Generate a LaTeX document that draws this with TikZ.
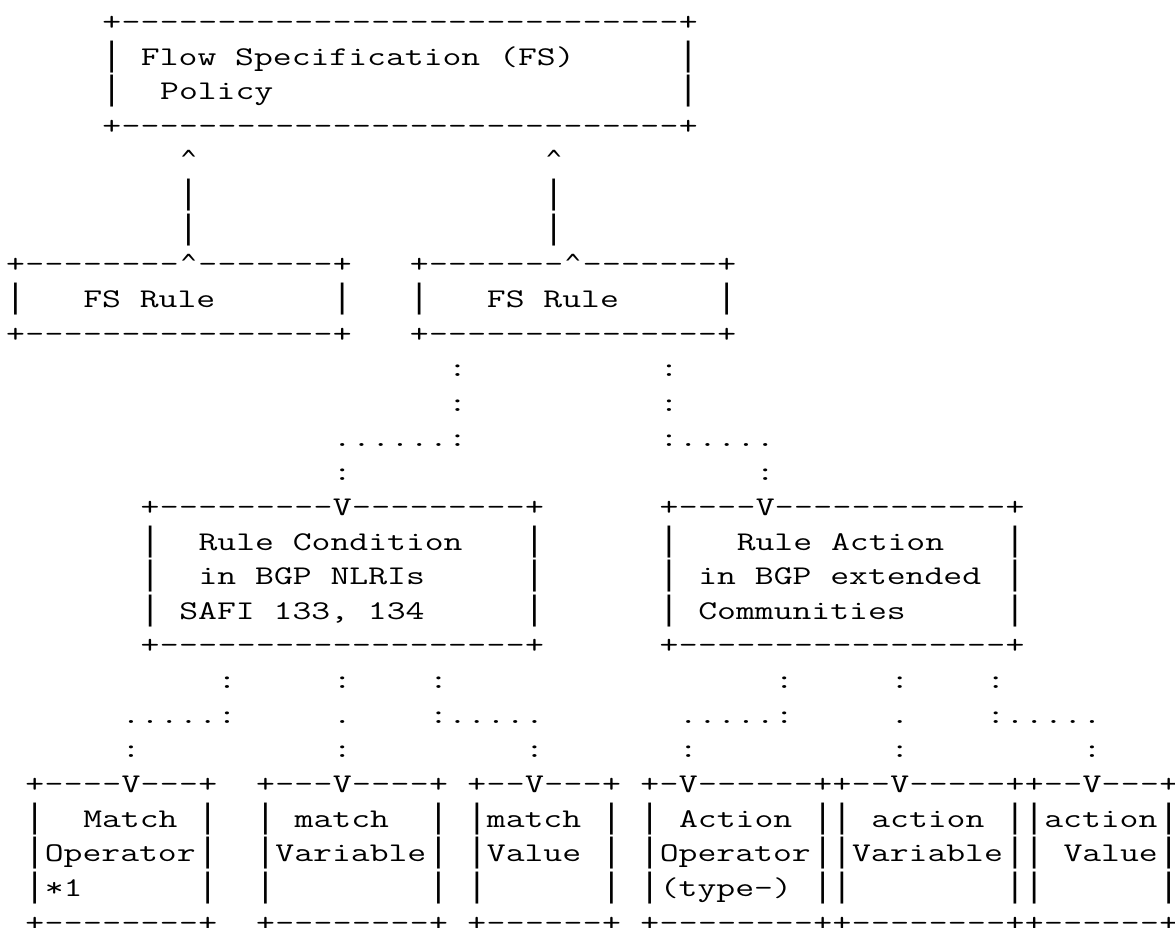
\documentclass[tikz,border=0pt]{standalone}
\usepackage{fontspec}
\newfontfamily\linefont{DejaVu Sans Mono}

% every character sits on a grid: one column per letter, one row per line
\newcommand{\wide}[1]{\scalebox{1.356}[1]{#1}}
\newcommand{\putch}[3]{\node[ch] at (#1,#2) {\wide{#3}};}
\newcommand{\putbar}[2]{\node[pipe] at (#1,#2) {|};}

% box of + - | characters: left col, top row, right col, bottom row
\newcommand{\asciibox}[4]{%
  \pgfmathtruncatemacro\cfirst{#1+1}%
  \pgfmathtruncatemacro\clast{#3-1}%
  \pgfmathtruncatemacro\rfirst{#2+1}%
  \pgfmathtruncatemacro\rlast{#4-1}%
  \foreach \y in {#2,#4} {
    \putch{#1}{\y}{+}
    \putch{#3}{\y}{+}
    \foreach \x in {\cfirst,...,\clast} {\putch{\x}{\y}{-}}
  }
  \foreach \y in {\rfirst,...,\rlast} {
    \putbar{#1}{\y}
    \putbar{#3}{\y}
  }
}

% runs of one character: char, col/row, from, to
\newcommand{\vrun}[4]{\foreach \y in {#3,...,#4} {\putch{#2}{\y}{#1}}}
\newcommand{\hrun}[4]{\foreach \x in {#3,...,#4} {\putch{\x}{#2}{#1}}}
\newcommand{\vbars}[3]{\foreach \y in {#2,...,#3} {\putbar{#1}{\y}}}

\begin{document}
\begin{tikzpicture}[
    x=9.61pt, y=-17.32pt,
    ch/.style={inner sep=0pt, anchor=base,
      font=\ttfamily\fontsize{13.5pt}{16pt}\selectfont},
    txt/.style={ch, anchor=base west},
    pipe/.style={inner sep=0pt, anchor=base,
      font=\linefont\fontsize{16pt}{18pt}\selectfont},
    caret/.style={inner sep=0pt, anchor=base,
      font=\linefont\fontsize{12.5pt}{14pt}\selectfont},
    joint/.style={ch, fill=white},
  ]
  \path[fill=white, use as bounding box] (-0.812,0.122) rectangle (60.322,26.883);

  % policy on top
  \asciibox{5}{1}{35}{4}
  \node[txt] (flowspec) at (6.5,2) {\wide{Flow Specification (FS)}};
  \node[txt] (policy) at (7.5,3) {\wide{Policy}};
  \node[caret] (tip1) at (9,5) {\textasciicircum};
  \node[caret] (tip2) at (28,5) {\textasciicircum};
  \vbars{9}{6}{7}
  \vbars{28}{6}{7}

  % the two rules
  \asciibox{0}{8}{17}{10}
  \asciibox{21}{8}{37}{10}
  \node[caret, fill=white] (up1) at (9,8) {\textasciicircum};
  \node[caret, fill=white] (up2) at (29,8) {\textasciicircum};
  \node[txt] (rule1) at (3.5,9) {\wide{FS Rule}};
  \node[txt] (rule2) at (24.5,9) {\wide{FS Rule}};

  % dotted links from the second rule
  \vrun{:}{23}{11}{13}
  \hrun{.}{13}{17}{22}
  \putch{17}{14}{:}
  \vrun{:}{34}{11}{13}
  \hrun{.}{13}{35}{39}
  \putch{39}{14}{:}

  % condition and action
  \asciibox{7}{15}{27}{19}
  \asciibox{34}{15}{52}{19}
  \node[joint] (down1) at (17,15) {\wide{V}};
  \node[joint] (down2) at (39,15) {\wide{V}};
  \node[txt] (cond1) at (9.5,16) {\wide{Rule Condition}};
  \node[txt] (cond2) at (9.5,17) {\wide{in BGP NLRIs}};
  \node[txt] (cond3) at (8.5,18) {\wide{SAFI 133, 134}};
  \node[txt] (act1) at (37.5,16) {\wide{Rule Action}};
  \node[txt] (act2) at (35.5,17) {\wide{in BGP extended}};
  \node[txt] (act3) at (35.5,18) {\wide{Communities}};

  % links down to the leaves
  \vrun{:}{11}{20}{21} \hrun{.}{21}{6}{10} \putch{6}{22}{:}
  \vrun{:}{22}{20}{21} \hrun{.}{21}{23}{27} \putch{27}{22}{:}
  \vrun{:}{40}{20}{21} \hrun{.}{21}{35}{39} \putch{35}{22}{:}
  \vrun{:}{51}{20}{21} \hrun{.}{21}{52}{56} \putch{56}{22}{:}
  \foreach \x in {17,46} {
    \putch{\x}{20}{:}
    \putch{\x}{21}{.}
    \putch{\x}{22}{:}
  }

  % leaves
  \foreach \a/\b/\m in {1/10/6, 13/22/17, 24/31/27, 33/42/35, 43/52/46, 53/60/56} {
    \asciibox{\a}{23}{\b}{27}
    \node[joint] (in\m) at (\m,23) {\wide{V}};
  }
  \node[txt] (mop1) at (3.5,24) {\wide{Match}};
  \node[txt] (mop2) at (1.5,25) {\wide{Operator}};
  \node[txt] (mop3) at (1.5,26) {\wide{*1}};
  \node[txt] (mvar1) at (14.5,24) {\wide{match}};
  \node[txt] (mvar2) at (13.5,25) {\wide{Variable}};
  \node[txt] (mval1) at (24.5,24) {\wide{match}};
  \node[txt] (mval2) at (24.5,25) {\wide{Value}};
  \node[txt] (aop1) at (34.5,24) {\wide{Action}};
  \node[txt] (aop2) at (33.5,25) {\wide{Operator}};
  \node[txt] (aop3) at (33.5,26) {\wide{(type-)}};
  \node[txt] (avar1) at (44.5,24) {\wide{action}};
  \node[txt] (avar2) at (43.5,25) {\wide{Variable}};
  \node[txt] (aval1) at (53.5,24) {\wide{action}};
  \node[txt] (aval2) at (54.5,25) {\wide{Value}};
\end{tikzpicture}
\end{document}
